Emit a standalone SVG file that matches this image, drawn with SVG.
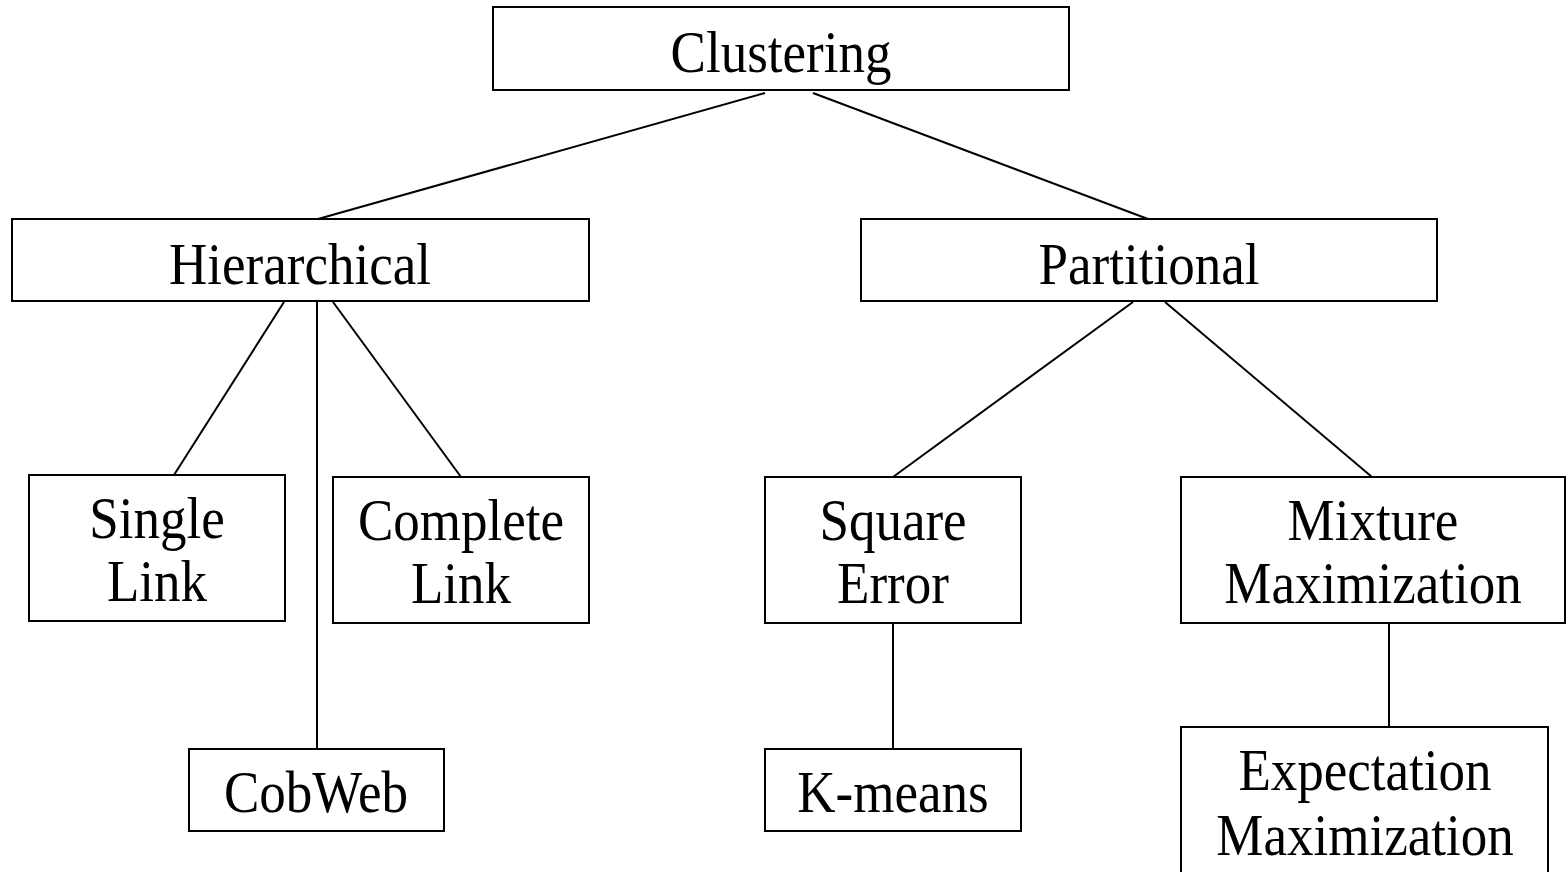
<svg xmlns="http://www.w3.org/2000/svg" width="1566" height="872" viewBox="0 0 1566 872">
<style>
.box{fill:#fff;stroke:#000;stroke-width:2}
line{stroke:#000;stroke-width:2}
text{font-family:"Liberation Serif","Times New Roman",serif;font-size:53px;fill:#000;text-anchor:middle}
</style>
<rect x="0" y="0" width="1566" height="872" fill="#fff"/>
<g id="connectors">
<line x1="765" y1="93" x2="318" y2="219"/>
<line x1="813" y1="93" x2="1148" y2="219"/>
<line x1="284" y1="302" x2="174" y2="475"/>
<line x1="317" y1="302" x2="317" y2="748"/>
<line x1="333" y1="302" x2="461" y2="477"/>
<line x1="1133" y1="302" x2="893" y2="477"/>
<line x1="1165" y1="302" x2="1372" y2="477"/>
<line x1="893" y1="623" x2="893" y2="748"/>
<line x1="1389" y1="623" x2="1389" y2="731"/>
</g>
<g id="clustering">
<rect class="box" x="493" y="7" width="576" height="83"/>
<text transform="translate(781,72) scale(1,1.13)">Clustering</text>
</g>
<g id="hierarchical">
<rect class="box" x="12" y="219" width="577" height="82"/>
<text transform="translate(300,284) scale(1,1.13)">Hierarchical</text>
</g>
<g id="partitional">
<rect class="box" x="861" y="219" width="576" height="82"/>
<text transform="translate(1149,284) scale(1,1.13)">Partitional</text>
</g>
<g id="single-link">
<rect class="box" x="29" y="475" width="256" height="146"/>
<text transform="translate(157,538) scale(1,1.13)">Single</text>
<text transform="translate(157,601) scale(1,1.13)">Link</text>
</g>
<g id="complete-link">
<rect class="box" x="333" y="477" width="256" height="146"/>
<text transform="translate(461,540) scale(1,1.13)">Complete</text>
<text transform="translate(461,603) scale(1,1.13)">Link</text>
</g>
<g id="square-error">
<rect class="box" x="765" y="477" width="256" height="146"/>
<text transform="translate(893,540) scale(1,1.13)">Square</text>
<text transform="translate(893,603) scale(1,1.13)">Error</text>
</g>
<g id="mixture-maximization">
<rect class="box" x="1181" y="477" width="384" height="146"/>
<text transform="translate(1373,540) scale(1,1.13)">Mixture</text>
<text transform="translate(1373,603) scale(1,1.13)">Maximization</text>
</g>
<g id="cobweb">
<rect class="box" x="189" y="749" width="255" height="82"/>
<text transform="translate(316,812) scale(1,1.13)">CobWeb</text>
</g>
<g id="k-means">
<rect class="box" x="765" y="749" width="256" height="82"/>
<text transform="translate(893,812) scale(1,1.13)">K-means</text>
</g>
<g id="expectation-maximization">
<rect class="box" x="1181" y="727" width="367" height="160"/>
<text transform="translate(1365,790) scale(1,1.13)">Expectation</text>
<text transform="translate(1365,855) scale(1,1.13)">Maximization</text>
</g>
</svg>
